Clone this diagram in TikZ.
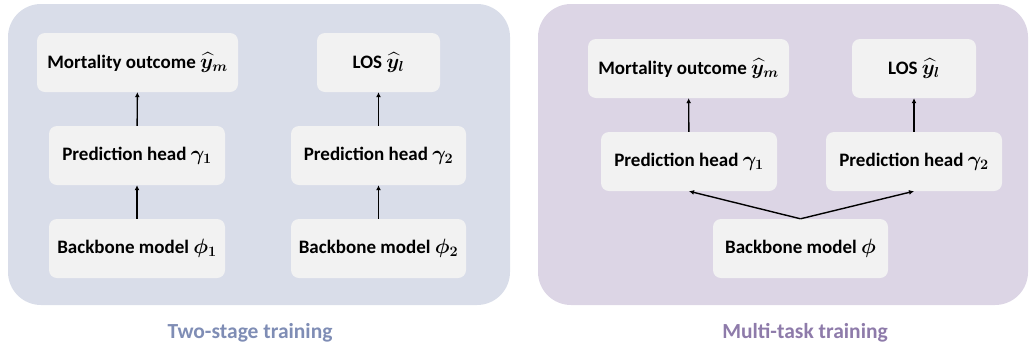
\documentclass[tikz,border=0pt]{standalone}
\usepackage{fontspec}
\usepackage{amsmath}
\usepackage{bm}
\setmainfont{Carlito}
\usetikzlibrary{arrows.meta}
\definecolor{panelA}{HTML}{D9DDE9}
\definecolor{panelB}{HTML}{DCD5E5}
\definecolor{boxfill}{HTML}{F2F2F2}
\definecolor{titleA}{HTML}{7F8DB5}
\definecolor{titleB}{HTML}{8E7BAA}
% bold math symbols, set a little larger than the text
\newcommand{\bmath}[1]{{\fontsize{22}{24}\selectfont$\bm{#1}$}}
\tikzset{
  panel/.style={rounded corners=33pt, draw=none},
  blk/.style={rectangle, rounded corners=8pt, fill=boxfill, draw=none,
    minimum height=59pt, inner sep=0pt, font=\fontsize{19}{22}\selectfont\bfseries},
  link/.style={draw=black, line width=1.4pt, -{Latex[length=5pt,width=5pt]}},
  caption/.style={font=\fontsize{21.5}{24}\selectfont\bfseries}
}
\begin{document}
\begin{tikzpicture}[x={(1pt,0)}, y={(0,-1pt)}]
\useasboundingbox (0,0) rectangle (1030,349);
% background panels
\fill[panel, panelA] (8,4) rectangle (510,305);
\fill[panel, panelB] (538,4) rectangle (1028,305);

% two-stage training
\node[blk, minimum width=201pt] (lm) at (137.5,62.5) {Mortality outcome \bmath{\widehat{y}_m}};
\node[blk, minimum width=123pt] (ll) at (378.5,62.5) {LOS \bmath{\widehat{y}_l}};
\node[blk, minimum width=176pt] (lp1) at (137,155.5) {Prediction head \bmath{\gamma_1}};
\node[blk, minimum width=175pt] (lp2) at (378.5,155.5) {Prediction head \bmath{\gamma_2}};
\node[blk, minimum width=176pt] (lb1) at (137,248.5) {Backbone model \bmath{\phi_1}};
\node[blk, minimum width=175pt] (lb2) at (378.5,248.5) {Backbone model \bmath{\phi_2}};
\draw[link] (lb1) -- (lp1);
\draw[link] (lp1) -- (lm);
\draw[link] (lb2) -- (lp2);
\draw[link] (lp2) -- (ll);
\node[caption, text=titleA] (ta) at (250,333) {Two-stage training};

% multi-task training
\node[blk, minimum width=201pt] (rm) at (688.5,68.5) {Mortality outcome \bmath{\widehat{y}_m}};
\node[blk, minimum width=124pt] (rl) at (914,68.5) {LOS \bmath{\widehat{y}_l}};
\node[blk, minimum width=176pt] (rp1) at (689,161.5) {Prediction head \bmath{\gamma_1}};
\node[blk, minimum width=176pt] (rp2) at (914,161.5) {Prediction head \bmath{\gamma_2}};
\node[blk, minimum width=175pt] (rb) at (800.5,248.5) {Backbone model \bmath{\phi}};
\draw[link] (rb.north) -- (rp1.south);
\draw[link] (rb.north) -- (rp2.south);
\draw[link] (rp1) -- (rm);
\draw[link] (rp2) -- (rl);
\node[caption, text=titleB] (tb) at (805,333) {Multi-task training};
\end{tikzpicture}
\end{document}
